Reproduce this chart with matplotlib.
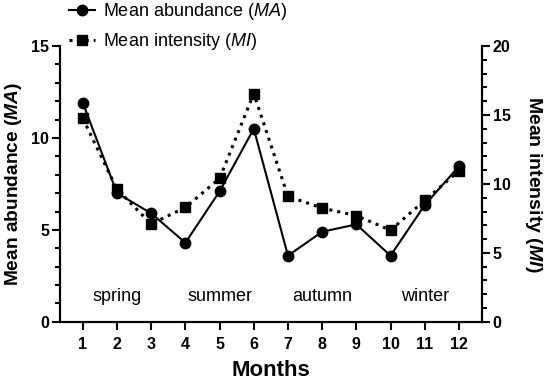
import matplotlib
matplotlib.use("Agg")
import matplotlib.pyplot as plt
from matplotlib.ticker import MultipleLocator

plt.rcParams['font.family'] = ['Liberation Sans', 'DejaVu Sans']
plt.rcParams['mathtext.fontset'] = 'custom'
plt.rcParams['mathtext.it'] = 'Liberation Sans:italic'
plt.rcParams['mathtext.bf'] = 'Liberation Sans:italic:bold'
plt.rcParams['mathtext.rm'] = 'Liberation Sans'

months = [1, 2, 3, 4, 5, 6, 7, 8, 9, 10, 11, 12]
mean_abundance = [11.9, 7.0, 5.9, 4.3, 7.1, 10.5, 3.6, 4.9, 5.3, 3.6, 6.35, 8.45]
mean_intensity = [14.75, 9.6, 7.1, 8.3, 10.4, 16.55, 9.1, 8.25, 7.7, 6.65, 8.8, 10.95]
seasons = ["spring", "summer", "autumn", "winter"]
season_x = [2, 5, 8, 11]
season_y = 1.4

fig = plt.figure(figsize=(5.5, 3.85), dpi=100)
ax = fig.add_axes([0.109, 0.164, 0.767, 0.7165])
ax2 = ax.twinx()

l1, = ax.plot(months, mean_abundance, '-', color='black', lw=1.5,
              marker='o', ms=7.5, label=r'Mean abundance ($\mathit{MA}$)')
l2, = ax2.plot(months, mean_intensity, ':', color='black', lw=2.2,
               marker='s', ms=7.5, label=r'Mean intensity ($\mathit{MI}$)')

ax.set_xlim(0.33, 12.67)
ax.set_ylim(0, 15)
ax2.set_ylim(0, 20)
ax.set_xticks(months)
ax.set_yticks([0, 5, 10, 15])
ax2.set_yticks([0, 5, 10, 15, 20])
ax.yaxis.set_minor_locator(MultipleLocator(1))
ax2.yaxis.set_minor_locator(MultipleLocator(1))

for a in (ax, ax2):
    a.spines['top'].set_visible(False)
    for s in a.spines.values():
        s.set_linewidth(1.5)
    a.tick_params(which='major', length=5.8, width=1.5, labelsize=11.5, pad=2)
    a.tick_params(which='minor', length=3.6, width=1.5)
    for lab in a.get_xticklabels() + a.get_yticklabels():
        lab.set_fontweight('bold')
ax.tick_params(axis='x', pad=5)

ax.set_xlabel('Months', fontsize=16, fontweight='bold', labelpad=6)
ax.set_ylabel(r'Mean abundance ($\mathbf{MA}$)', fontsize=13.8, fontweight='bold', labelpad=5)
ax2.set_ylabel(r'Mean intensity ($\mathbf{MI}$)', fontsize=14, fontweight='bold',
               rotation=270, labelpad=24)

for s, x in zip(seasons, season_x):
    ax.text(x, season_y, s, ha='center', va='center', fontsize=13)

fig.legend(handles=[l1, l2], loc='upper left', bbox_to_anchor=(0.113, 1.015),
           frameon=False, fontsize=13, handlelength=1.4, handletextpad=0.45,
           labelspacing=0.5, borderaxespad=0)

fig.savefig('out.png', dpi=100)
